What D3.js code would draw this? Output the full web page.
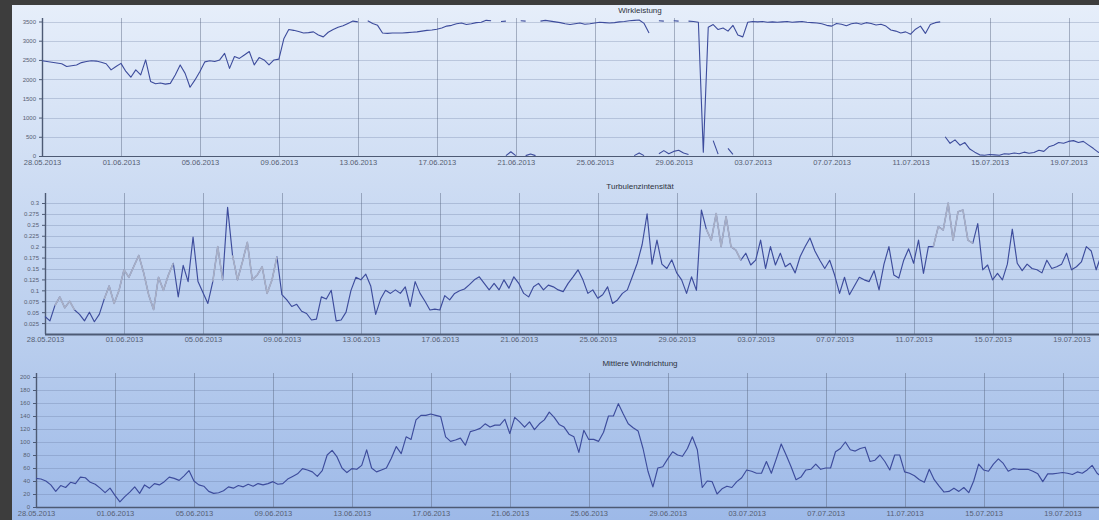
<!DOCTYPE html>
<html>
<head>
<meta charset="utf-8">
<script src="https://cdn.jsdelivr.net/npm/d3@7"></script>
<style>
  html, body { margin: 0; padding: 0; background: #3d3d3d; overflow: hidden; }
  svg { display: block; }
  text { font-family: "Liberation Sans", Arial, sans-serif; }
</style>
</head>
<body>
<svg id="chart" width="1099" height="520"></svg>
<script>
// ---- data -----------------------------------------------------------------
// readings every 6 hours starting at startDate
const startDate = "28.05.2013";
const stepHours = 6;

const tickLabels = ["28.05.2013", "01.06.2013", "05.06.2013", "09.06.2013", "13.06.2013",
  "17.06.2013", "21.06.2013", "25.06.2013", "29.06.2013", "03.07.2013", "07.07.2013",
  "11.07.2013", "15.07.2013", "19.07.2013"];

const powerTicks = [0, 500, 1000, 1500, 2000, 2500, 3000, 3500];
const turbulenceTicks = [0.025, 0.05, 0.075, 0.1, 0.125, 0.15, 0.175, 0.2, 0.225, 0.25, 0.275, 0.3];
const directionTicks = [0, 20, 40, 60, 80, 100, 120, 140, 160, 180, 200];

// Wirkleistung [kW]
const powerMain = [
  2480, 2460, 2440, 2420, 2400, 2330, 2350, 2370, 2430, 2460,
  2480, 2470, 2440, 2400, 2240, 2330, 2410, 2200, 2050, 2240,
  2110, 2500, 1940, 1880, 1900, 1870, 1890, 2110, 2370, 2150,
  1790, 1980, 2200, 2450, 2480, 2460, 2500, 2670, 2280, 2590,
  2540, 2630, 2720, 2370, 2560, 2500, 2370, 2500, 2520, 3050,
  3290, 3270, 3240, 3200, 3210, 3230, 3150, 3100, 3220, 3290,
  3350, 3390, 3450, 3510, 3490, null, 3520, 3450, 3400, 3200,
  3190, 3200, 3200, 3200, 3210, 3220, 3230, 3250, 3270, 3280,
  3300, 3330, 3380, 3400, 3440, 3460, 3420, 3440, 3470, 3480,
  3530, 3520, null, 3500, 3510, null, null, 3520, 3510, null,
  null, 3510, 3530, 3510, 3490, 3470, 3440, 3420, 3440, 3460,
  3430, 3440, 3460, 3480, 3470, 3460, 3470, 3490, 3500, 3520,
  3530, 3540, 3450, 3200, null, 3520, 3510, null, 3520, 3510,
  null, 3510, 3500, 3480, 100, 3350, 3420, 3290, 3330, 3250,
  3400, 3150, 3100, 3480, 3500, 3490, 3500, 3480, 3490, 3480,
  3490, 3500, 3480, 3490, 3500, 3480, 3470, 3460, 3440, 3400,
  3380, 3450, 3430, 3390, 3440, 3460, 3430, 3470, 3450, 3410,
  3430, 3380, 3280, 3250, 3200, 3230, 3170, 3300, 3380, 3190,
  3420, 3470, 3490, null, null, null, null, null, null, null,
  null, null, null, null, null, null, null, null, null, null,
  null, null, null, null, null, null, null, null, null, null,
  null, null, null, null, null, null, null
];

// Wirkleistung bei Abschaltung / Drosselung [kW]
const powerReduced = [
  null, null, null, null, null, null, null, null, null, null,
  null, null, null, null, null, null, null, null, null, null,
  null, null, null, null, null, null, null, null, null, null,
  null, null, null, null, null, null, null, null, null, null,
  null, null, null, null, null, null, null, null, null, null,
  null, null, null, null, null, null, null, null, null, null,
  null, null, null, null, null, null, null, null, null, null,
  null, null, null, null, null, null, null, null, null, null,
  null, null, null, null, null, null, null, null, null, null,
  null, null, null, null, 10, 110, 10, null, 10, 50,
  10, null, null, null, null, null, null, null, null, null,
  null, null, null, null, null, null, null, null, null, null,
  10, 80, 10, null, null, 60, 140, 60, 120, 150,
  80, 40, null, null, null, null, 400, 50, null, 200,
  40, null, null, null, null, null, null, null, null, null,
  null, null, null, null, null, null, null, null, null, null,
  null, null, null, null, null, null, null, null, null, null,
  null, null, null, null, null, null, null, null, null, null,
  null, null, null, 500, 330, 420, 280, 350, 180, 100,
  30, 20, 40, 30, 20, 60, 50, 80, 60, 100,
  70, 90, 150, 120, 240, 280, 350, 330, 380, 400,
  350, 380, 290, 200, 100, 60, 40
];

// Turbulenzintensität [-]
const turbulence = [
  0.040, 0.030, 0.065, 0.085, 0.060, 0.075, 0.055, 0.045, 0.030, 0.050,
  0.028, 0.045, 0.080, 0.110, 0.070, 0.100, 0.147, 0.130, 0.155, 0.180,
  0.140, 0.090, 0.056, 0.130, 0.100, 0.135, 0.162, 0.085, 0.157, 0.120,
  0.222, 0.120, 0.095, 0.070, 0.120, 0.200, 0.124, 0.290, 0.180, 0.124,
  0.165, 0.210, 0.124, 0.135, 0.154, 0.093, 0.124, 0.177, 0.090, 0.078,
  0.063, 0.068, 0.052, 0.047, 0.032, 0.034, 0.085, 0.080, 0.100, 0.030,
  0.032, 0.050, 0.100, 0.130, 0.124, 0.137, 0.110, 0.045, 0.080, 0.100,
  0.093, 0.101, 0.093, 0.108, 0.063, 0.120, 0.093, 0.075, 0.055, 0.057,
  0.055, 0.088, 0.078, 0.093, 0.099, 0.103, 0.113, 0.124, 0.131, 0.116,
  0.101, 0.116, 0.101, 0.124, 0.105, 0.131, 0.116, 0.093, 0.085, 0.108,
  0.116, 0.101, 0.112, 0.108, 0.101, 0.097, 0.116, 0.131, 0.147, 0.124,
  0.093, 0.101, 0.082, 0.090, 0.108, 0.070, 0.078, 0.093, 0.101, 0.131,
  0.162, 0.205, 0.275, 0.160, 0.215, 0.160, 0.150, 0.170, 0.140, 0.124,
  0.093, 0.131, 0.100, 0.284, 0.240, 0.215, 0.276, 0.200, 0.269, 0.200,
  0.192, 0.169, 0.185, 0.158, 0.169, 0.215, 0.150, 0.200, 0.158, 0.185,
  0.154, 0.162, 0.140, 0.177, 0.200, 0.220, 0.190, 0.169, 0.150, 0.169,
  0.135, 0.093, 0.130, 0.090, 0.110, 0.130, 0.124, 0.120, 0.145, 0.101,
  0.160, 0.200, 0.135, 0.128, 0.169, 0.195, 0.162, 0.215, 0.139, 0.200,
  0.200, 0.246, 0.238, 0.300, 0.215, 0.280, 0.284, 0.215, 0.208, 0.253,
  0.147, 0.158, 0.124, 0.139, 0.124, 0.160, 0.240, 0.162, 0.145, 0.160,
  0.150, 0.147, 0.140, 0.169, 0.150, 0.154, 0.160, 0.185, 0.147, 0.154,
  0.165, 0.200, 0.190, 0.147, 0.180, 0.160, 0.150
];

// 1 = reading marked as estimated (drawn pale)
const turbulenceEstimated = [
  0, 0, 1, 1, 1, 1, 1, 0, 0, 0,
  0, 0, 1, 1, 1, 1, 1, 1, 1, 1,
  1, 1, 1, 1, 1, 1, 1, 0, 0, 0,
  0, 0, 0, 0, 1, 1, 1, 0, 1, 1,
  1, 1, 1, 1, 1, 1, 1, 1, 0, 0,
  0, 0, 0, 0, 0, 0, 0, 0, 0, 0,
  0, 0, 0, 0, 0, 0, 0, 0, 0, 0,
  0, 0, 0, 0, 0, 0, 0, 0, 0, 0,
  0, 0, 0, 0, 0, 0, 0, 0, 0, 0,
  0, 0, 0, 0, 0, 0, 0, 0, 0, 0,
  0, 0, 0, 0, 0, 0, 0, 0, 0, 0,
  0, 0, 0, 0, 0, 0, 0, 0, 0, 0,
  0, 0, 0, 0, 0, 0, 0, 0, 0, 0,
  0, 0, 0, 0, 1, 1, 1, 1, 1, 1,
  1, 1, 0, 0, 0, 0, 0, 0, 0, 0,
  0, 0, 0, 0, 0, 0, 0, 0, 0, 0,
  0, 0, 0, 0, 0, 0, 0, 0, 0, 0,
  0, 0, 0, 0, 0, 0, 0, 0, 0, 0,
  1, 1, 1, 1, 1, 1, 1, 1, 1, 0,
  0, 0, 0, 0, 0, 0, 0, 0, 0, 0,
  0, 0, 0, 0, 0, 0, 0, 0, 0, 0,
  0, 0, 0, 0, 0, 0, 0
];

// Mittlere Windrichtung [°]
const direction = [
  44, 43, 40, 34, 24, 33, 30, 38, 36, 46,
  45, 38, 35, 29, 22, 29, 18, 8, 16, 23,
  31, 21, 34, 29, 36, 34, 39, 46, 44, 41,
  48, 56, 40, 34, 32, 24, 21, 22, 25, 31,
  29, 33, 31, 35, 32, 36, 34, 36, 39, 35,
  36, 43, 47, 51, 59, 57, 54, 47, 56, 80,
  87, 77, 60, 53, 59, 58, 64, 88, 60, 54,
  57, 60, 75, 93, 82, 108, 104, 134, 141, 141,
  143, 141, 139, 108, 101, 103, 106, 95, 116, 118,
  121, 128, 123, 126, 126, 135, 113, 138, 131, 123,
  131, 119, 128, 134, 146, 138, 127, 123, 112, 108,
  84, 118, 104, 104, 101, 115, 140, 140, 159, 143,
  128, 122, 117, 90, 55, 31, 60, 62, 74, 85,
  80, 78, 90, 108, 88, 30, 40, 39, 20, 28,
  32, 30, 39, 45, 57, 55, 52, 52, 70, 52,
  74, 97, 80, 62, 42, 46, 57, 58, 66, 58,
  60, 60, 85, 90, 100, 88, 86, 90, 92, 70,
  72, 80, 70, 57, 80, 80, 54, 52, 48, 42,
  38, 58, 42, 32, 23, 24, 29, 24, 30, 22,
  40, 66, 57, 55, 66, 74, 67, 55, 59, 58,
  58, 58, 55, 51, 39, 51, 51, 52, 53, 52,
  50, 54, 52, 57, 64, 52, 46
];

// ---- drawing --------------------------------------------------------------
const parseDate = d3.timeParse("%d.%m.%Y");
const formatDate = d3.timeFormat("%d.%m.%Y");
const t0 = parseDate(startDate);
const times = powerMain.map((_, i) => d3.timeHour.offset(t0, i * stepHours));
const tickTimes = tickLabels.map(parseDate);

const W = 1099, H = 520;
const svg = d3.select("#chart");

// window frame and gradient panel
const defs = svg.append("defs");
const grad = defs.append("linearGradient").attr("id", "panelBg")
  .attr("x1", 0).attr("y1", 0).attr("x2", 0).attr("y2", 1);
[["0%", "#e6eefa"], ["35%", "#cddcf3"], ["68%", "#b7cced"], ["100%", "#9db9e8"]]
  .forEach(([o, c]) => grad.append("stop").attr("offset", o).attr("stop-color", c));

svg.append("rect").attr("width", W).attr("height", H).attr("fill", "#3d3d3d");
svg.append("rect").attr("x", 12).attr("y", 5).attr("width", W - 12).attr("height", H - 5)
  .attr("fill", "url(#panelBg)");

const LINE_DARK = "#3d4c9c";
const LINE_PALE = "#a7afc6";
const plotWidth = 1066;

function panel(cfg) {
  const x = d3.scaleTime().domain([times[0], times[times.length - 1]])
    .range([cfg.left, cfg.left + plotWidth]);
  const y = d3.scaleLinear().domain(cfg.domain).range([cfg.bottom, cfg.top]);
  const g = svg.append("g");

  // horizontal grid
  g.append("g").selectAll("line").data(cfg.ticks).join("line")
    .attr("x1", cfg.left).attr("x2", W)
    .attr("y1", d => Math.round(y(d)) + 0.5).attr("y2", d => Math.round(y(d)) + 0.5)
    .attr("stroke", "#5d7198").attr("stroke-opacity", 0.28).attr("stroke-width", 1);

  // vertical grid at the date ticks
  g.append("g").selectAll("line").data(tickTimes.slice(1)).join("line")
    .attr("x1", d => Math.round(x(d)) + 0.5).attr("x2", d => Math.round(x(d)) + 0.5)
    .attr("y1", cfg.gridTop).attr("y2", cfg.bottom)
    .attr("stroke", "#56647e").attr("stroke-opacity", 0.45).attr("stroke-width", 1);

  // y axis
  const yAxis = d3.axisLeft(y).tickValues(cfg.ticks).tickFormat(cfg.fmt)
    .tickSize(3).tickPadding(3);
  const ya = g.append("g").attr("transform", `translate(${cfg.left},0)`).call(yAxis);
  ya.select(".domain").remove();
  ya.selectAll(".tick line").attr("stroke", "#4d5a74");
  ya.selectAll(".tick text").attr("fill", "#566073").style("font-size", "6px")
    .style("font-family", "'Liberation Sans', Arial, sans-serif");
  g.append("line").attr("x1", cfg.left + 0.5).attr("x2", cfg.left + 0.5)
    .attr("y1", cfg.gridTop).attr("y2", cfg.bottom)
    .attr("stroke", "#4d5a74").attr("stroke-width", 1.4);

  // x axis
  const xAxis = d3.axisBottom(x).tickValues(tickTimes).tickFormat(formatDate)
    .tickSize(0).tickPadding(cfg.labelPad);
  const xa = g.append("g").attr("transform", `translate(0,${cfg.bottom})`).call(xAxis);
  xa.select(".domain").remove();
  xa.selectAll(".tick text").attr("fill", "#566073").style("font-size", "7.5px")
    .style("font-family", "'Liberation Sans', Arial, sans-serif");
  g.append("line").attr("x1", cfg.left).attr("x2", W)
    .attr("y1", cfg.bottom + 0.5).attr("y2", cfg.bottom + 0.5)
    .attr("stroke", "#4d5a74").attr("stroke-width", cfg.axisWidth);

  // title
  g.append("text").attr("x", 640).attr("y", cfg.titleY).attr("text-anchor", "middle")
    .attr("fill", "#2e3340").style("font-size", "8px").text(cfg.title);

  return { x, y, g };
}

function drawSeries(p, values, color, width, keep) {
  const line = d3.line()
    .defined((d, i) => d != null && (!keep || keep(i)))
    .x((d, i) => p.x(times[i]))
    .y(d => p.y(d));
  p.g.append("path").datum(values).attr("d", line)
    .attr("fill", "none").attr("stroke", color)
    .attr("stroke-width", width).attr("stroke-linejoin", "round");
}

// Wirkleistung
const p1 = panel({
  left: 42, top: 21.5, bottom: 156, gridTop: 18, domain: [0, 3500], ticks: powerTicks,
  fmt: d3.format("d"), title: "Wirkleistung", titleY: 12.5, labelPad: 4, axisWidth: 1.2
});
drawSeries(p1, powerMain, LINE_DARK, 1.1);
drawSeries(p1, powerReduced, LINE_DARK, 1.1);

// Turbulenzintensität: full series, estimated stretches redrawn pale on top
const p2 = panel({
  left: 45, top: 203, bottom: 334, gridTop: 193, domain: [0, 0.3], ticks: turbulenceTicks,
  fmt: d => String(+d.toFixed(3)), title: "Turbulenzintensität", titleY: 189,
  labelPad: 3, axisWidth: 2.2
});
drawSeries(p2, turbulence, LINE_DARK, 1.15);
drawSeries(p2, turbulence, LINE_PALE, 1.7, i => turbulenceEstimated[i] === 1);

// Mittlere Windrichtung
const p3 = panel({
  left: 36, top: 377, bottom: 507, gridTop: 373, domain: [0, 200], ticks: directionTicks,
  fmt: d3.format("d"), title: "Mittlere Windrichtung", titleY: 366, labelPad: 4, axisWidth: 1.4
});
drawSeries(p3, direction, LINE_DARK, 1.15);
</script>
</body>
</html>
